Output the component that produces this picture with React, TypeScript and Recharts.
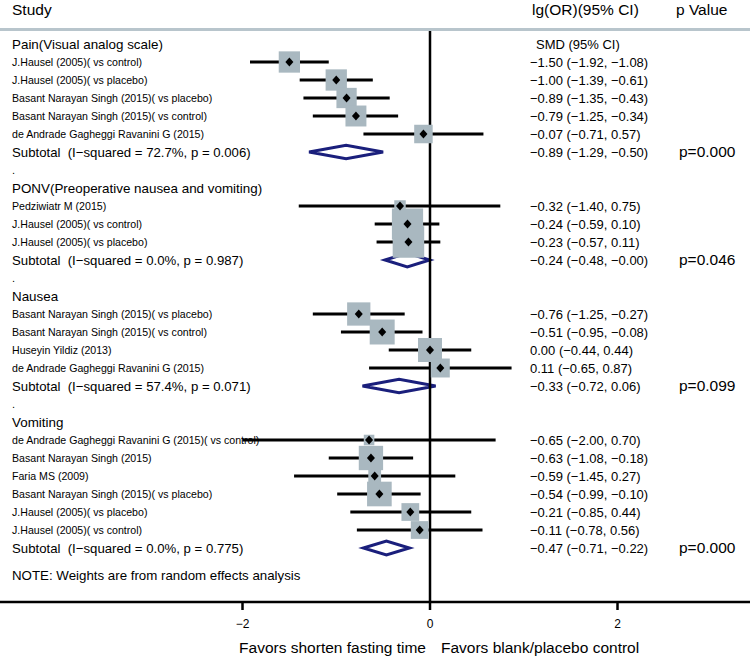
import {
  ScatterChart, Scatter, XAxis, YAxis, ZAxis, ReferenceLine, ReferenceArea, ErrorBar,
} from 'recharts';

const groupNames = [
  'Pain(Visual analog scale)',
  'PONV(Preoperative nausea and vomiting)',
  'Nausea',
  'Vomiting',
];
const groupSizes = [5, 3, 4, 6];

const studyNames = [
  'J.Hausel (2005)( vs control)',
  'J.Hausel (2005)( vs placebo)',
  'Basant Narayan Singh (2015)( vs placebo)',
  'Basant Narayan Singh (2015)( vs control)',
  'de Andrade Gagheggi Ravanini G (2015)',
  'Pedziwiatr M (2015)',
  'J.Hausel (2005)( vs control)',
  'J.Hausel (2005)( vs placebo)',
  'Basant Narayan Singh (2015)( vs placebo)',
  'Basant Narayan Singh (2015)( vs control)',
  'Huseyin Yildiz (2013)',
  'de Andrade Gagheggi Ravanini G (2015)',
  'de Andrade Gagheggi Ravanini G (2015)( vs control)',
  'Basant Narayan Singh (2015)',
  'Faria MS (2009)',
  'Basant Narayan Singh (2015)( vs placebo)',
  'J.Hausel (2005)( vs placebo)',
  'J.Hausel (2005)( vs control)',
];
const studyEst = [-1.5, -1.0, -0.89, -0.79, -0.07, -0.32, -0.24, -0.23, -0.76, -0.51, 0.0, 0.11, -0.65, -0.63, -0.59, -0.54, -0.21, -0.11];
const studyLo = [-1.92, -1.39, -1.35, -1.25, -0.71, -1.4, -0.59, -0.57, -1.25, -0.95, -0.44, -0.65, -2.0, -1.08, -1.45, -0.99, -0.85, -0.78];
const studyHi = [-1.08, -0.61, -0.43, -0.34, 0.57, 0.75, 0.1, 0.11, -0.27, -0.08, 0.44, 0.87, 0.7, -0.18, 0.27, -0.1, 0.44, 0.56];
// random-effects weights (%) within each subgroup
const studyWeight = [21.6, 21.6, 19.6, 20.9, 16.3, 6.3, 46.4, 47.3, 25.8, 29.7, 27.4, 17.1, 5.3, 28.2, 7.8, 28.9, 15.0, 15.0];

const subEst = [-0.89, -0.24, -0.33, -0.47];
const subLo = [-1.29, -0.48, -0.72, -0.71];
const subHi = [-0.5, -0.004, 0.06, -0.22];
const subISquared = [72.7, 0.0, 57.4, 0.0];
const subHetP = [0.006, 0.987, 0.071, 0.775];
const subPValue = ['0.000', '0.046', '0.099', '0.000'];

const xTicks = [-2, 0, 2];

const FONT = '"Liberation Sans", Arial, Helvetica, sans-serif';
const SQUARE = '#a9b8c0';
const NAVY = '#1a1f7c';

const fmt = (v: number) => (v < 0 ? '\u2212' : '') + Math.abs(v).toFixed(2);
const ci = (e: number, l: number, h: number) => `${fmt(e)} (${fmt(l)}, ${fmt(h)})`;

type Row = {
  kind: 'group' | 'study' | 'subtotal' | 'dot' | 'note';
  row: number;
  label: string;
  est?: number;
  lo?: number;
  hi?: number;
  w?: number;
  p?: string;
};

const rows: Row[] = [];
{
  let r = 0;
  let s = 0;
  groupNames.forEach((g, gi) => {
    if (gi > 0) rows.push({ kind: 'dot', row: r++, label: '.' });
    rows.push({ kind: 'group', row: r++, label: g });
    for (let k = 0; k < groupSizes[gi]; k++, s++) {
      rows.push({
        kind: 'study', row: r++, label: studyNames[s],
        est: studyEst[s], lo: studyLo[s], hi: studyHi[s], w: studyWeight[s],
      });
    }
    rows.push({
      kind: 'subtotal', row: r++,
      label: `Subtotal  (I\u2212squared = ${subISquared[gi].toFixed(1)}%, p = ${subHetP[gi].toFixed(3)})`,
      est: subEst[gi], lo: subLo[gi], hi: subHi[gi], p: subPValue[gi],
    });
  });
  rows.push({ kind: 'note', row: r + 0.55, label: 'NOTE: Weights are from random effects analysis' });
}

const rowMap = new Map(rows.map(r => [r.row, r]));
const studyPts = rows.filter(r => r.kind === 'study').map(r => ({
  x: r.est, y: r.row, w: r.w, err: [r.est! - r.lo!, r.hi! - r.est!],
}));
const subRows = rows.filter(r => r.kind === 'subtotal');

const LABEL_SIZE: Record<string, number> = { group: 13.4, study: 10.6, subtotal: 13.2, dot: 11, note: 13.3 };

const RowTick = (props: any) => {
  const { y, payload } = props;
  const r = rowMap.get(payload.value);
  if (!r) return null;
  return (
    <g fontFamily={FONT} fill="#000" stroke="none">
      <text x={12} y={y} dominantBaseline="central" fontSize={LABEL_SIZE[r.kind]} style={{ whiteSpace: 'pre' }}>
        {r.label}
      </text>
      {r.row === 0 && (
        <text x={536} y={y} dominantBaseline="central" fontSize={13}>SMD (95% CI)</text>
      )}
      {r.est !== undefined && (
        <text x={530} y={y} dominantBaseline="central" fontSize={13}>{ci(r.est, r.lo!, r.hi!)}</text>
      )}
      {r.p && (
        <text x={679} y={y - 1} dominantBaseline="central" fontSize={15.5}>p={r.p}</text>
      )}
    </g>
  );
};

const Marker = (props: any) => {
  const { cx, cy } = props;
  return <polygon points={`${cx},${cy - 4.5} ${cx + 4},${cy} ${cx},${cy + 4.5} ${cx - 4},${cy}`} fill="#000" />;
};

const Diamond = (props: any) => {
  const { x, y, width, height } = props;
  const my = y + height / 2;
  return (
    <path
      d={`M${x},${my} L${x + width / 2},${y} L${x + width},${my} L${x + width / 2},${y + height} Z`}
      fill="none" stroke={NAVY} strokeWidth={3}
    />
  );
};

const AxisTick = (props: any) => {
  const { x, y, payload } = props;
  return (
    <text x={x} y={y + 12} textAnchor="middle" dominantBaseline="central" fontSize={12}
      fontFamily={FONT} fill="#000" stroke="none">
      {String(payload.value).replace('-', '\u2212')}
    </text>
  );
};

export default function App() {
  return (
    <div style={{ position: 'absolute', left: 0, top: 0, width: 750, height: 656, background: '#fff' }}>
      <ScatterChart width={750} height={656} margin={{ top: 30, right: 0, bottom: 0, left: 0 }}>
        <XAxis
          type="number" dataKey="x" domain={[-4.5867, 3.4133]} allowDataOverflow
          ticks={xTicks} height={54} tickSize={8} tickMargin={2}
          axisLine={{ stroke: '#000', strokeWidth: 2.5 }}
          tickLine={{ stroke: '#000', strokeWidth: 2.5 }}
          tick={AxisTick}
        />
        <YAxis
          type="number" dataKey="y" domain={[-0.778, 31]} allowDataOverflow reversed
          ticks={rows.map(r => r.row)} interval={0} mirror
          axisLine={false} tickLine={false} tick={RowTick}
        />
        <ZAxis type="number" dataKey="w" domain={[0, 100]} range={[0, 2100]} />
        <Scatter data={studyPts} shape="square" fill={SQUARE} isAnimationActive={false} />
        <ReferenceLine x={0} stroke="#000" strokeWidth={2.5} />
        {subRows.map(r => (
          <ReferenceArea
            key={r.row} x1={r.lo} x2={r.hi} y1={r.row - 0.38} y2={r.row + 0.38}
            shape={<Diamond />}
          />
        ))}
        <Scatter data={studyPts} shape={<Marker />} isAnimationActive={false}>
          <ErrorBar dataKey="err" direction="x" width={0} stroke="#000" strokeWidth={3} isAnimationActive={false} />
        </Scatter>
      </ScatterChart>
      <svg width={750} height={656} style={{ position: 'absolute', left: 0, top: 0, pointerEvents: 'none' }}
        fontFamily={FONT} fill="#000">
        <text x={12} y={9} dominantBaseline="central" fontSize={15.5}>Study</text>
        <text x={532} y={9} dominantBaseline="central" fontSize={15.5}>lg(OR)(95% CI)</text>
        <text x={676} y={9} dominantBaseline="central" fontSize={15.5}>p Value</text>
        <line x1={0} x2={750} y1={29.5} y2={29.5} stroke="#b8c5cc" strokeWidth={3} />
        <text x={426} y={647} dominantBaseline="central" textAnchor="end" fontSize={15.5}>Favors shorten fasting time</text>
        <text x={441} y={647} dominantBaseline="central" fontSize={15.5}>Favors blank/placebo control</text>
      </svg>
    </div>
  );
}
